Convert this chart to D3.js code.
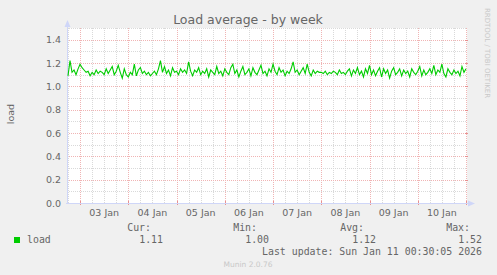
<!DOCTYPE html>
<html>
<head>
<meta charset="utf-8">
<script src="https://cdn.jsdelivr.net/npm/d3@7"></script>
<style>
  body { margin: 0; background: #F0F0F0; }
  svg { display: block; }
</style>
</head>
<body>
<div id="chart"></div>
<script>
var W = 497, H = 275;

// hourly load samples, first one at 02 Jan 18:00 UTC
var firstSample = Date.UTC(2026, 0, 2, 18, 0);
var loadValues = [
  1.09, 1.22, 1.12, 1.14, 1.10, 1.15,
  1.19, 1.16, 1.14, 1.12, 1.13, 1.09, 1.12, 1.10, 1.14, 1.11, 1.13, 1.12,
  1.10, 1.15, 1.11, 1.14, 1.17, 1.10, 1.13, 1.18, 1.12, 1.07, 1.15, 1.10,
  1.08, 1.12, 1.10, 1.19, 1.09, 1.14, 1.16, 1.11, 1.13, 1.10, 1.12, 1.09,
  1.11, 1.13, 1.10, 1.15, 1.22, 1.12, 1.17, 1.11, 1.14, 1.09, 1.16, 1.12,
  1.13, 1.10, 1.15, 1.12, 1.14, 1.11, 1.21, 1.13, 1.09, 1.14, 1.12, 1.16,
  1.10, 1.13, 1.11, 1.15, 1.08, 1.14, 1.12, 1.10, 1.17, 1.11, 1.13, 1.09,
  1.15, 1.12, 1.10, 1.16, 1.19, 1.11, 1.14, 1.08, 1.13, 1.17, 1.10, 1.12,
  1.15, 1.09, 1.16, 1.12, 1.10, 1.14, 1.18, 1.11, 1.13, 1.09, 1.15, 1.12,
  1.19, 1.13, 1.10, 1.16, 1.12, 1.14, 1.09, 1.13, 1.11, 1.15, 1.21, 1.12,
  1.14, 1.10, 1.13, 1.16, 1.11, 1.19, 1.12, 1.09, 1.14, 1.11, 1.13, 1.12,
  1.12, 1.11, 1.13, 1.10, 1.12, 1.11, 1.13, 1.12, 1.10, 1.14, 1.11, 1.12,
  1.10, 1.13, 1.15, 1.09, 1.14, 1.11, 1.16, 1.10, 1.13, 1.08, 1.15, 1.11,
  1.18, 1.10, 1.14, 1.09, 1.13, 1.16, 1.08, 1.15, 1.11, 1.14, 1.07, 1.13,
  1.16, 1.10, 1.12, 1.15, 1.09, 1.14, 1.11, 1.13, 1.08, 1.15, 1.12, 1.10,
  1.13, 1.17, 1.09, 1.14, 1.10, 1.12, 1.15, 1.11, 1.18, 1.10, 1.14, 1.12,
  1.19, 1.11, 1.08, 1.15, 1.12, 1.10, 1.14, 1.11, 1.13, 1.09, 1.17, 1.12,
  1.15
];

var yTicks = [0.0, 0.2, 0.4, 0.6, 0.8, 1.0, 1.2, 1.4];
var statLabels = ["Cur:", "Min:", "Avg:", "Max:"];
var statValues = ["1.11", "1.00", "1.12", "1.52"];
var lastUpdate = "Last update: Sun Jan 11 00:30:05 2026";

var data = loadValues.map(function(v, i) {
  return { t: new Date(firstSample + i * 3600000), v: v };
});

var plotL = 67, plotR = 467, plotT = 28, plotB = 203;

var x = d3.scaleUtc()
  .domain([new Date(Date.UTC(2026, 0, 2, 17, 30)), new Date(Date.UTC(2026, 0, 11, 0, 30))])
  .range([plotL, plotR]);
var y = d3.scaleLinear().domain([0, 1.5]).range([plotB, plotT]);

var svg = d3.select("#chart").append("svg")
  .attr("width", W).attr("height", H);

svg.append("rect").attr("width", W).attr("height", H).attr("fill", "#F0F0F0");
svg.append("rect")
  .attr("x", plotL).attr("y", plotT)
  .attr("width", plotR - plotL).attr("height", plotB - plotT)
  .attr("fill", "#FFFFFF");

var gridMinor = "#d9d9d9", gridMajor = "#f0b4b4";
var g = svg.append("g").attr("shape-rendering", "crispEdges");

function px(v) { return Math.round(v) + 0.5; }

// minor grid
var minorY = d3.range(1, 16).map(function(d) { return d / 10; });
g.selectAll(".hmin").data(minorY).enter().append("line")
  .attr("x1", plotL).attr("x2", plotR)
  .attr("y1", function(d) { return px(y(d)); })
  .attr("y2", function(d) { return px(y(d)); })
  .attr("stroke", gridMinor).attr("stroke-dasharray", "1,1");
var minorX = x.ticks(d3.utcHour.every(6));
g.selectAll(".vmin").data(minorX).enter().append("line")
  .attr("x1", function(d) { return px(x(d)); })
  .attr("x2", function(d) { return px(x(d)); })
  .attr("y1", plotT).attr("y2", plotB)
  .attr("stroke", gridMinor).attr("stroke-dasharray", "1,1");

// major grid
g.selectAll(".hmaj").data(yTicks.slice(1)).enter().append("line")
  .attr("x1", plotL).attr("x2", plotR)
  .attr("y1", function(d) { return px(y(d)); })
  .attr("y2", function(d) { return px(y(d)); })
  .attr("stroke", gridMajor).attr("stroke-dasharray", "1,1");
var days = x.ticks(d3.utcDay.every(1));
g.selectAll(".vmaj").data(days).enter().append("line")
  .attr("x1", function(d) { return px(x(d)); })
  .attr("x2", function(d) { return px(x(d)); })
  .attr("y1", plotT).attr("y2", plotB)
  .attr("stroke", gridMajor).attr("stroke-dasharray", "1,1");

// small solid ticks at edges
g.selectAll(".tk").data(days).enter().append("line")
  .attr("x1", function(d) { return px(x(d)); })
  .attr("x2", function(d) { return px(x(d)); })
  .attr("y1", plotB - 2).attr("y2", plotB + 2)
  .attr("stroke", "#e89090");
g.selectAll(".tky").data(yTicks.slice(1)).enter().append("line")
  .attr("x1", plotR - 2).attr("x2", plotR + 1)
  .attr("y1", function(d) { return px(y(d)); })
  .attr("y2", function(d) { return px(y(d)); })
  .attr("stroke", "#e89090");

// data line
var line = d3.line()
  .x(function(d) { return x(d.t); })
  .y(function(d) { return y(d.v); });
svg.append("path").datum(data)
  .attr("d", line)
  .attr("fill", "none")
  .attr("stroke", "#00CC00")
  .attr("stroke-width", 1.1);

// axes
var axisCol = "#CFD6F8";
g.append("line").attr("x1", plotL + 0.5).attr("x2", plotL + 0.5)
  .attr("y1", plotB + 1).attr("y2", 24).attr("stroke", axisCol);
g.append("line").attr("x1", plotL - 1).attr("x2", 470)
  .attr("y1", plotB + 0.5).attr("y2", plotB + 0.5).attr("stroke", axisCol);
svg.append("path").attr("d", "M64.5,27 L67.5,20 L70.5,27 Z").attr("fill", axisCol);
svg.append("path").attr("d", "M468,200.5 L475,203.5 L468,206.5 Z").attr("fill", axisCol);

var sans = "DejaVu Sans, sans-serif", mono = "DejaVu Sans Mono, monospace";
var fontCol = "#666666";

svg.selectAll(".ylab").data(yTicks).enter().append("text")
  .attr("x", 61).attr("y", function(d) { return y(d) + 3.5; })
  .attr("text-anchor", "end")
  .attr("font-family", sans).attr("font-size", 9.5).attr("fill", fontCol)
  .text(function(d) { return d.toFixed(1); });

var labelDays = days.slice(0, days.length - 1);
svg.selectAll(".xlab").data(labelDays).enter().append("text")
  .attr("x", function(d) { return x(d3.utcHour.offset(d, 12)); })
  .attr("y", 216)
  .attr("text-anchor", "middle")
  .attr("font-family", sans).attr("font-size", 9.5).attr("fill", fontCol)
  .text(d3.utcFormat("%d %b"));

svg.append("text")
  .attr("x", 248).attr("y", 24).attr("text-anchor", "middle")
  .attr("font-family", sans).attr("font-size", 12.5).attr("fill", fontCol)
  .text("Load average - by week");

svg.append("text")
  .attr("transform", "translate(14,114) rotate(-90)")
  .attr("text-anchor", "middle")
  .attr("font-family", sans).attr("font-size", 9.5).attr("fill", fontCol)
  .text("load");

svg.append("text")
  .attr("transform", "translate(485,53) rotate(90)")
  .attr("text-anchor", "middle")
  .attr("font-family", sans).attr("font-size", 7).attr("fill", "#c8c8c8")
  .text("RRDTOOL / TOBI OETIKER");

// legend
svg.append("rect").attr("x", 14).attr("y", 237).attr("width", 6).attr("height", 6)
  .attr("fill", "#00CC00");
svg.append("text").attr("x", 27).attr("y", 243)
  .attr("font-family", mono).attr("font-size", 9.9).attr("fill", fontCol)
  .text("load");

var colEnd = [163, 269, 376, 482];
svg.selectAll(".slab").data(statLabels).enter().append("text")
  .attr("x", function(d, i) { return colEnd[i] - 12; })
  .attr("y", 231)
  .attr("text-anchor", "end")
  .attr("font-family", mono).attr("font-size", 9.9).attr("fill", fontCol)
  .text(function(d) { return d; });
svg.selectAll(".sval").data(statValues).enter().append("text")
  .attr("x", function(d, i) { return colEnd[i]; })
  .attr("y", 243)
  .attr("text-anchor", "end")
  .attr("font-family", mono).attr("font-size", 9.9).attr("fill", fontCol)
  .text(function(d) { return d; });

svg.append("text").attr("x", 482).attr("y", 255).attr("text-anchor", "end")
  .attr("font-family", mono).attr("font-size", 9.9).attr("fill", fontCol)
  .text(lastUpdate);

svg.append("text").attr("x", 248).attr("y", 267).attr("text-anchor", "middle")
  .attr("font-family", sans).attr("font-size", 7.5).attr("fill", "#c8c8c8")
  .text("Munin 2.0.76");
</script>
</body>
</html>
